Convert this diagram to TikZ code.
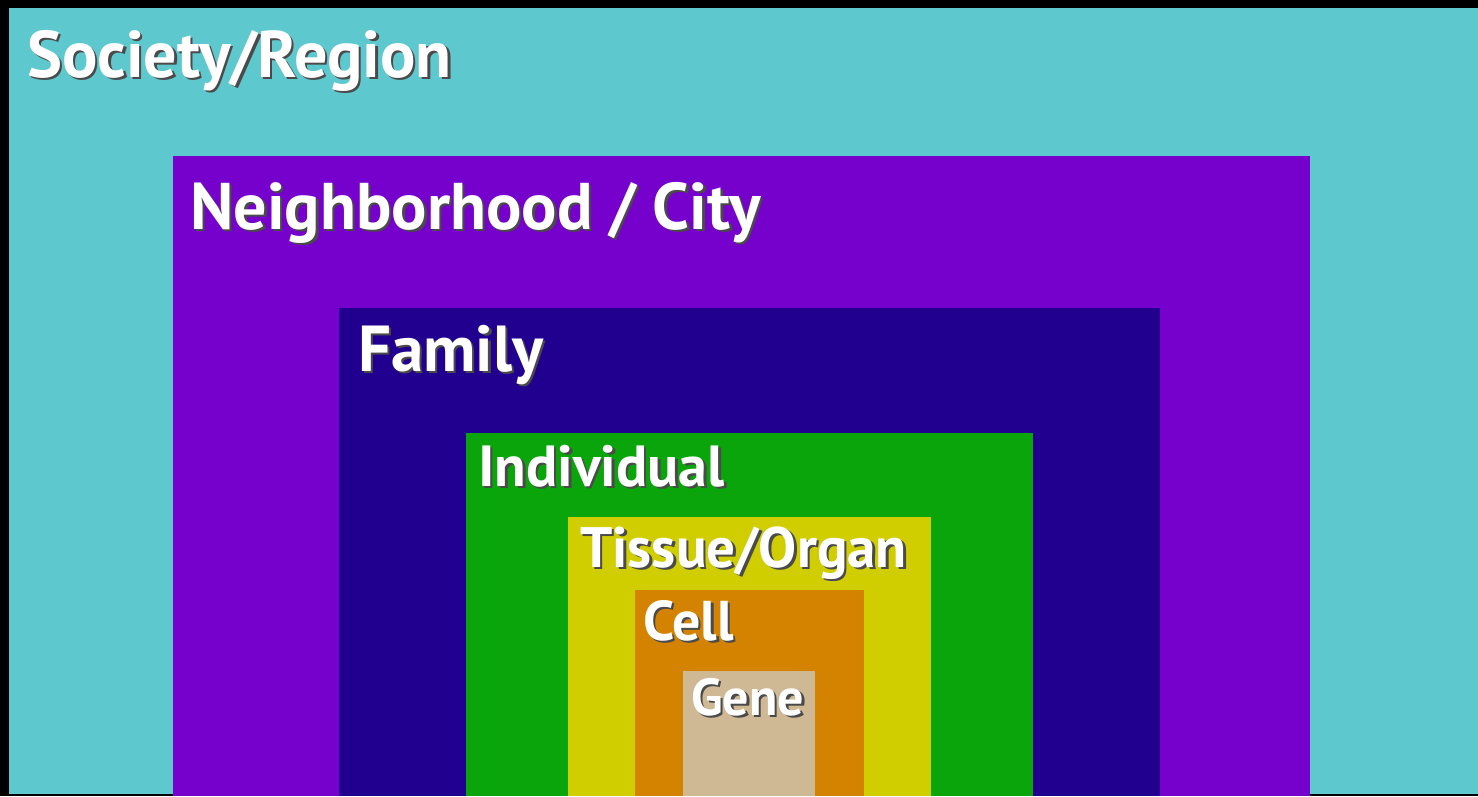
\documentclass[tikz,border=0pt]{standalone}
\usepackage{fontspec}
\setmainfont{PT Sans}
\definecolor{cSoc}{HTML}{5DC9CF}
\definecolor{cNei}{HTML}{7600CC}
\definecolor{cFam}{HTML}{22008F}
\definecolor{cInd}{HTML}{0AA50A}
\definecolor{cTis}{HTML}{D0CE00}
\definecolor{cCel}{HTML}{D38300}
\definecolor{cGen}{HTML}{CFB894}
\definecolor{cShadow}{HTML}{4A4A4A}
\tikzset{
  lbl/.style={anchor=base west, inner sep=0pt, text=white},
}
\newcommand\mylabel[5]{%
  \node[lbl, font=\bfseries\fontsize{#4}{#4}\selectfont] (#1) at (#2,#3)
    {\rlap{\hspace{2.5pt}\raisebox{-2.5pt}{\textcolor{cShadow}{#5}}}#5};
}
\begin{document}
\begin{tikzpicture}[x=1pt,y=-1pt]
\useasboundingbox (0,0) rectangle (1478,796);
\fill[black] (0,0) rectangle (1478,796);
\fill[cSoc] (9,8) rectangle (1478,794);
\fill[cNei] (173,156) rectangle (1310,796);
\fill[cFam] (339,308) rectangle (1160,796);
\fill[cInd] (466,433) rectangle (1033,796);
\fill[cTis] (568,517) rectangle (931,796);
\fill[cCel] (635,590) rectangle (864,796);
\fill[cGen] (683,671) rectangle (815,796);
\mylabel{soc}{27}{77}{66}{Society/Region}
\mylabel{nei}{190}{229}{66}{Neighborhood / City}
\mylabel{fam}{358}{371}{65}{Family}
\mylabel{ind}{478}{486}{58}{Individual}
\mylabel{tis}{580}{567}{57}{Tissue/Organ}
\mylabel{cel}{643}{640}{56}{Cell}
\mylabel{gen}{691}{715}{52}{Gene}
\end{tikzpicture}
\end{document}
